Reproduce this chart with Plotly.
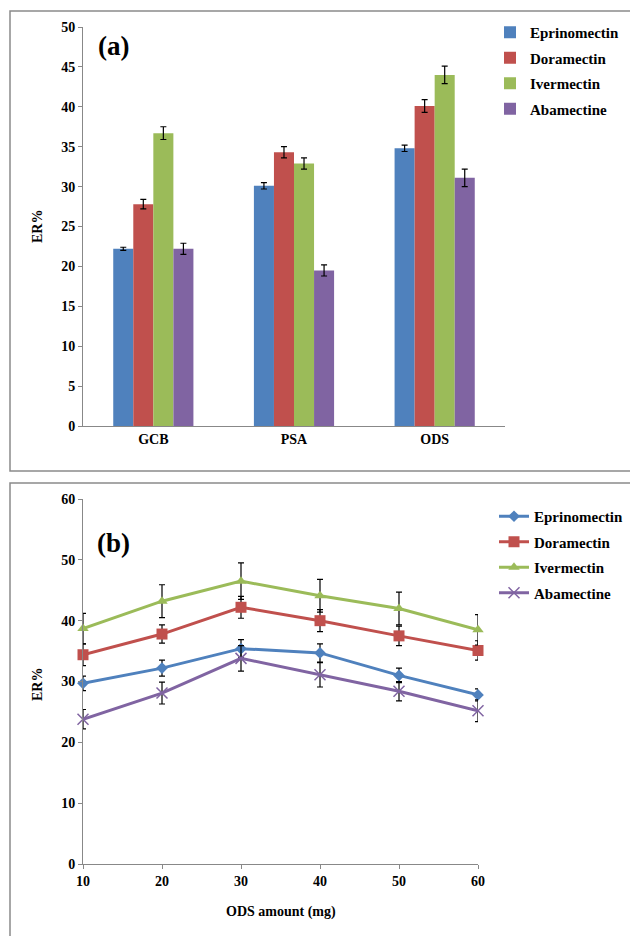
import plotly.graph_objects as go

# ---------- data ----------
series = ["Eprinomectin", "Doramectin", "Ivermectin", "Abamectine"]
colors = ["#4F81BD", "#C0504D", "#9BBB59", "#8064A2"]

sorbents = ["GCB", "PSA", "ODS"]
bar_eprino = [22.2, 30.1, 34.8]
bar_dora = [27.8, 34.3, 40.1]
bar_iver = [36.7, 32.9, 44.0]
bar_abam = [22.2, 19.5, 31.1]
bar_err_eprino = [0.2, 0.4, 0.4]
bar_err_dora = [0.6, 0.7, 0.8]
bar_err_iver = [0.8, 0.7, 1.1]
bar_err_abam = [0.7, 0.7, 1.1]

ods_amount = [10, 20, 30, 40, 50, 60]
line_eprino = [29.7, 32.2, 35.4, 34.7, 31.0, 27.8]
line_dora = [34.4, 37.8, 42.2, 40.0, 37.5, 35.1]
line_iver = [38.7, 43.2, 46.5, 44.1, 42.0, 38.5]
line_abam = [23.8, 28.1, 33.8, 31.1, 28.4, 25.2]
line_err_eprino = [1.2, 1.3, 1.5, 1.5, 1.2, 1.0]
line_err_dora = [1.8, 1.5, 1.8, 1.8, 1.6, 1.6]
line_err_iver = [2.5, 2.7, 3.0, 2.7, 2.7, 2.5]
line_err_abam = [1.6, 1.8, 2.1, 2.0, 1.6, 1.8]

# page body has an 8px default margin; figure is sized to fill the rest
OFF = 8
W, H = 638 - OFF, 936 - OFF
def px(x):
    return (x - OFF) / W
def py(y):
    return 1 - (y - OFF) / H

FONT = "Liberation Serif"
fig = go.Figure()

bar_vals = [bar_eprino, bar_dora, bar_iver, bar_abam]
bar_errs = [bar_err_eprino, bar_err_dora, bar_err_iver, bar_err_abam]
for name, c, v, e in zip(series, colors, bar_vals, bar_errs):
    fig.add_trace(go.Bar(
        x=sorbents, y=v, name=name, marker=dict(color=c, line=dict(width=0)),
        error_y=dict(type="data", array=e, color="black", thickness=1.2, width=3),
        xaxis="x", yaxis="y", legend="legend", legendgroup="a" + name,
    ))

line_vals = [line_eprino, line_dora, line_iver, line_abam]
line_errs = [line_err_eprino, line_err_dora, line_err_iver, line_err_abam]
symbols = ["diamond", "square", "triangle-up", "x-thin"]
sizes = [9, 11, 10, 11]
for name, c, v, e, s, sz in zip(series, colors, line_vals, line_errs, symbols, sizes):
    fig.add_trace(go.Scatter(
        x=ods_amount, y=v, name=name, mode="lines+markers",
        line=dict(color=c, width=3),
        marker=dict(symbol=s, size=sz, color=c, line=dict(color=c, width=1.5 if s == "x-thin" else 0)),
        error_y=dict(type="data", array=e, color="black", thickness=1.2, width=3),
        xaxis="x2", yaxis="y2", legend="legend2", legendgroup="b" + name,
        cliponaxis=False,
    ))

tickfont = dict(family=FONT, size=14, color="black", weight="bold")
axis_common = dict(showline=True, linecolor="#888888", linewidth=1, showgrid=False,
                   zeroline=False, ticks="outside", tickcolor="#888888", ticklen=4,
                   tickfont=tickfont, automargin=False)
legfont = dict(family=FONT, size=15, color="black", weight="bold")

fig.update_layout(
    width=W, height=H, margin=dict(l=0, r=0, t=0, b=0, autoexpand=False),
    paper_bgcolor="white", plot_bgcolor="white",
    barmode="group", bargap=0.43, bargroupgap=0,
    font=dict(family=FONT, color="black"),
    xaxis=dict(domain=[px(83), px(505)], anchor="y", ticks="",
               showline=True, linecolor="#888888", showgrid=False, automargin=False,
               tickfont=tickfont),
    yaxis=dict(domain=[py(426), py(27)], anchor="x", range=[0, 50], dtick=5, **axis_common),
    xaxis2=dict(domain=[px(83), px(478)], anchor="y2", range=[10, 60], dtick=10, **axis_common),
    yaxis2=dict(domain=[py(864), py(499)], anchor="x2", range=[0, 60], dtick=10, **axis_common),
    legend=dict(x=px(490), y=py(16), xanchor="left", yanchor="top",
                font=legfont, tracegroupgap=3,
                bgcolor="rgba(0,0,0,0)", itemwidth=30),
    legend2=dict(x=px(494), y=py(500), xanchor="left", yanchor="top",
                 font=legfont, tracegroupgap=3,
                 bgcolor="rgba(0,0,0,0)", itemwidth=30),
    showlegend=True,
)

def label(text, x, y, size, angle=0):
    fig.add_annotation(text=text, x=px(x), y=py(y), xref="paper", yref="paper",
                       xanchor="center", yanchor="middle", showarrow=False, textangle=angle,
                       font=dict(family=FONT, size=size, color="black", weight="bold"))

label("(a)", 113, 46, 27)
label("(b)", 113, 543, 27)
label("ER%", 37, 227, 14, -90)
label("ER%", 37, 685, 14, -90)
label("ODS amount (mg)", 281, 912, 14)

fig.add_shape(type="rect", xref="paper", yref="paper", x0=px(10), x1=1.05, y0=py(471), y1=py(11),
              line=dict(color="#8a8a8a", width=1.5))
fig.add_shape(type="rect", xref="paper", yref="paper", x0=px(10), x1=1.05, y0=-0.05, y1=py(483),
              line=dict(color="#8a8a8a", width=1.5))

fig.write_html("out.html")
